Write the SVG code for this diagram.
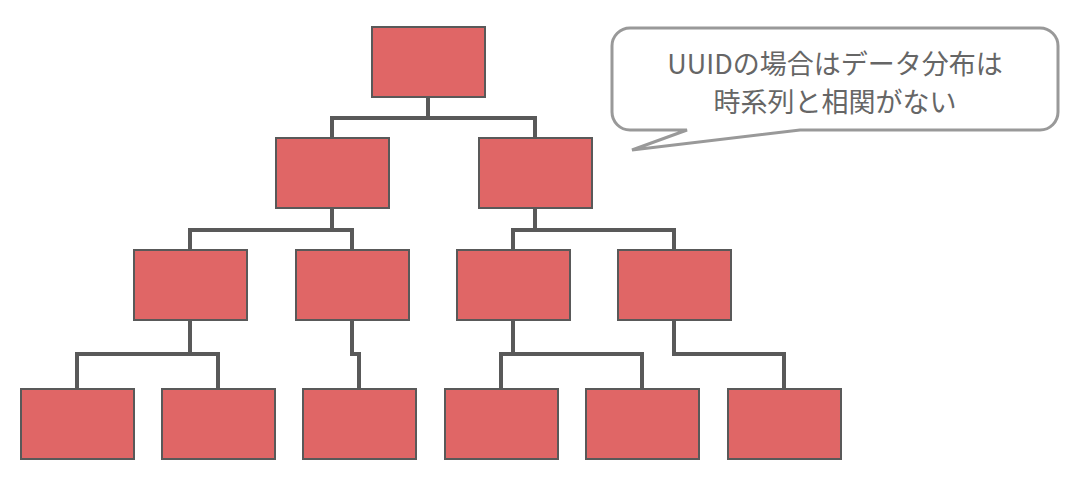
<svg xmlns="http://www.w3.org/2000/svg" width="1092" height="478" viewBox="0 0 1092 478">
<style>
.n{fill:#e06666;stroke:#595959;stroke-width:2}
.c{fill:none;stroke:#595959;stroke-width:4}
.t{font-family:"Noto Sans CJK JP","Noto Sans",sans-serif;font-size:27px;fill:#666;text-anchor:middle}
</style>
<rect width="1092" height="478" fill="#fff"/>
<g id="connectors">
<path class="c" d="M428 97V118M332 138V118H535V138"/>
<path class="c" d="M332 208V230M190 250V230H352V250"/>
<path class="c" d="M535 208V230M513 250V230H674V250"/>
<path class="c" d="M190 320V354M77 389V354H218V389"/>
<path class="c" d="M352 320V354H359V389"/>
<path class="c" d="M513 320V354M501 389V354H642V389"/>
<path class="c" d="M674 320V354H784V389"/>
</g>
<g id="n0"><rect class="n" x="372" y="27" width="113" height="70"/></g>
<g id="n1"><rect class="n" x="276" y="138" width="113" height="70"/></g>
<g id="n2"><rect class="n" x="479" y="138" width="113" height="70"/></g>
<g id="n3"><rect class="n" x="134" y="250" width="113" height="70"/></g>
<g id="n4"><rect class="n" x="296" y="250" width="113" height="70"/></g>
<g id="n5"><rect class="n" x="457" y="250" width="113" height="70"/></g>
<g id="n6"><rect class="n" x="618" y="250" width="113" height="70"/></g>
<g id="n7"><rect class="n" x="21" y="389" width="113" height="70"/></g>
<g id="n8"><rect class="n" x="162" y="389" width="113" height="70"/></g>
<g id="n9"><rect class="n" x="303" y="389" width="113" height="70"/></g>
<g id="n10"><rect class="n" x="445" y="389" width="113" height="70"/></g>
<g id="n11"><rect class="n" x="586" y="389" width="113" height="70"/></g>
<g id="n12"><rect class="n" x="728" y="389" width="113" height="70"/></g>
<g id="callout">
<path d="M630 28H1040A18 18 0 0 1 1058 46V112A18 18 0 0 1 1040 130H800L632 150L687 130H630A18 18 0 0 1 612 112V46A18 18 0 0 1 630 28Z" fill="#fff" stroke="#999" stroke-width="3"/>
<text class="t" x="835" y="74">UUIDの場合はデータ分布は</text>
<text class="t" x="835" y="112">時系列と相関がない</text>
</g>
</svg>
